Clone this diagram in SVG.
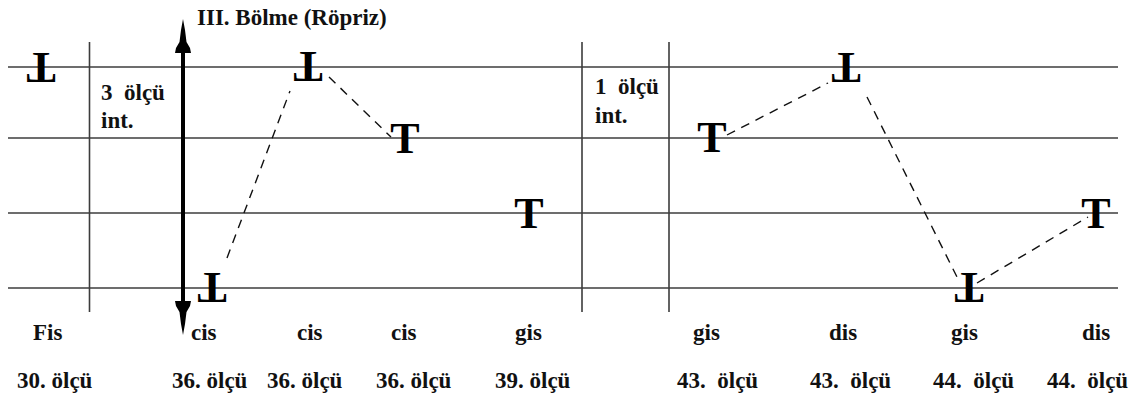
<svg xmlns="http://www.w3.org/2000/svg" width="1144" height="401" viewBox="0 0 1144 401">
<style>
.grid{stroke:#3c3c3c;stroke-width:1.6;fill:none}
.dash{stroke:#111;stroke-width:1.4;stroke-dasharray:9 7;fill:none}
.lbl{font-family:"Liberation Serif","Times New Roman",serif;font-weight:bold;font-size:23px;fill:#111}
.note{font-family:"Liberation Serif","Times New Roman",serif;font-weight:bold;font-size:44px;fill:#000;text-anchor:middle}
</style>
<rect width="1144" height="401" fill="#fff"/>
<g id="staff">
<line class="grid" x1="8" y1="67" x2="1118" y2="67"/>
<line class="grid" x1="8" y1="138" x2="1118" y2="138"/>
<line class="grid" x1="8" y1="213" x2="1118" y2="213"/>
<line class="grid" x1="8" y1="288" x2="1118" y2="288"/>
<line class="grid" x1="89.5" y1="42" x2="89.5" y2="312"/>
<line class="grid" x1="582" y1="42" x2="582" y2="312"/>
<line class="grid" x1="669" y1="42" x2="669" y2="312"/>
</g>
<g id="reprise-arrow">
<line x1="183" y1="50" x2="183" y2="303" stroke="#000" stroke-width="4"/>
<polygon points="183,19 185,30 186.5,42 190,48 191,53 175,53 176,48 179.5,42 181,30" fill="#000"/>
<polygon points="183,335 185,324 186.5,312 190,306 191,301 175,301 176,306 179.5,312 181,324" fill="#000"/>
<text class="lbl" x="197" y="25">III. Bölme (Röpriz)</text>
</g>
<g id="connectors">
<line class="dash" x1="227" y1="258" x2="290" y2="91"/>
<line class="dash" x1="329" y1="77" x2="391" y2="137"/>
<line class="dash" x1="727" y1="135" x2="828" y2="83"/>
<line class="dash" x1="867" y1="97" x2="957" y2="277"/>
<line class="dash" x1="977" y1="283" x2="1088" y2="217"/>
</g>
<g id="interlude-labels">
<text class="lbl" x="101" y="100" xml:space="preserve">3  ölçü</text>
<text class="lbl" x="101" y="128">int.</text>
<text class="lbl" x="595" y="94" xml:space="preserve">1  ölçü</text>
<text class="lbl" x="595" y="123">int.</text>
</g>
<g id="n1"><text class="note" transform="translate(41,53) rotate(180)">T</text><text class="lbl" x="33" y="340">Fis</text><text class="lbl" x="17" y="388">30. ölçü</text></g>
<g id="n2"><text class="note" transform="translate(212,273) rotate(180)">T</text><text class="lbl" x="191" y="340">cis</text><text class="lbl" x="172" y="388">36. ölçü</text></g>
<g id="n3"><text class="note" transform="translate(308,52) rotate(180)">T</text><text class="lbl" x="297" y="340">cis</text><text class="lbl" x="267" y="388">36. ölçü</text></g>
<g id="n4"><text class="note" x="405" y="153">T</text><text class="lbl" x="391" y="340">cis</text><text class="lbl" x="376" y="388">36. ölçü</text></g>
<g id="n5"><text class="note" x="529" y="228">T</text><text class="lbl" x="515" y="340">gis</text><text class="lbl" x="495" y="388">39. ölçü</text></g>
<g id="n6"><text class="note" x="712" y="152">T</text><text class="lbl" x="693" y="340">gis</text><text class="lbl" x="677" y="388" xml:space="preserve">43.  ölçü</text></g>
<g id="n7"><text class="note" transform="translate(846,53) rotate(180)">T</text><text class="lbl" x="829" y="340">dis</text><text class="lbl" x="810" y="388" xml:space="preserve">43.  ölçü</text></g>
<g id="n8"><text class="note" transform="translate(969,273) rotate(180)">T</text><text class="lbl" x="951" y="340">gis</text><text class="lbl" x="933" y="388" xml:space="preserve">44.  ölçü</text></g>
<g id="n9"><text class="note" x="1096" y="228">T</text><text class="lbl" x="1082" y="340">dis</text><text class="lbl" x="1047" y="388" xml:space="preserve">44.  ölçü</text></g>
</svg>
